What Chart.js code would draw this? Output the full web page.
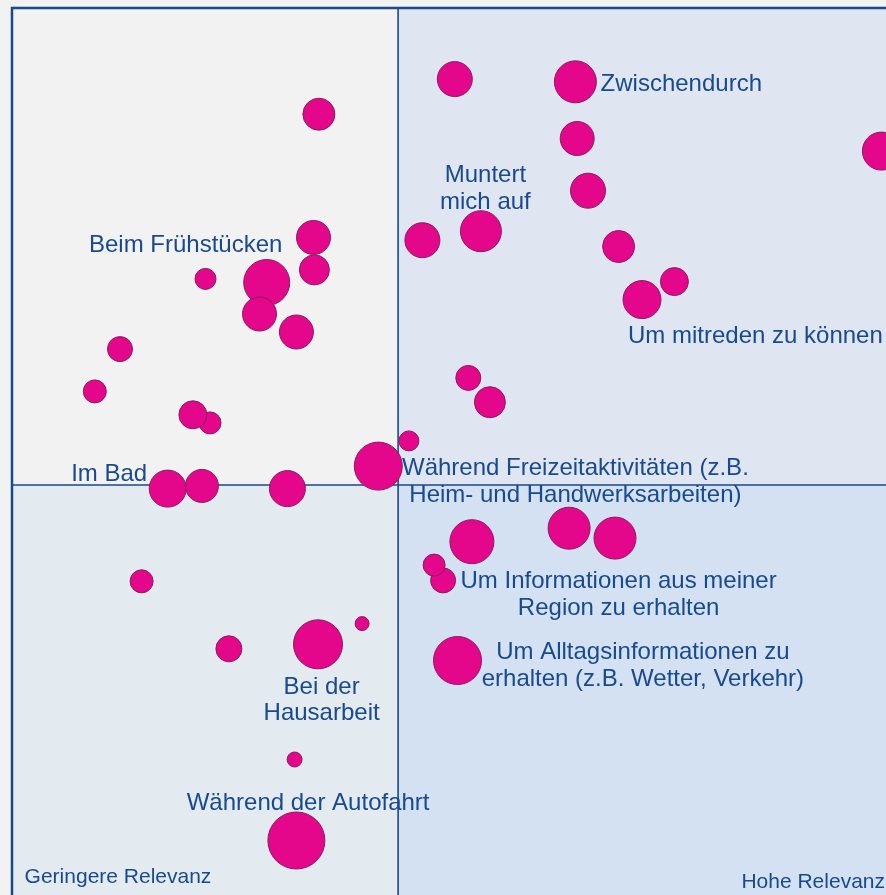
<!DOCTYPE html>
<html>
<head>
<meta charset="utf-8">
<script src="https://cdn.jsdelivr.net/npm/chart.js@4.4.1/dist/chart.umd.min.js"></script>
<style>
    html, body { margin: 0; padding: 0; background: #f2f2f2; }
    #wrap { width: 886px; height: 895px; overflow: hidden; position: relative; }
    canvas { display: block; }
</style>
</head>
<body>
<div id="wrap">
    <canvas id="relevanzChart" width="930" height="930"></canvas>
</div>
<script>
// Relevanz (x), Häufigkeit (y), Größe der Blase (r)
const xWerte = [
    34.1, 33.5, 33.6, 28.3, 21.5, 27.5, 31.6, 12.0, 9.2, 22.0, 20.1, 17.3, 21.1, 30.6, 40.7,
    14.4, 24.1, 34.0, 38.9, 31.4, 31.6,
    49.2, 62.6, 62.8, 64.0, 45.6, 52.1, 67.4, 73.6, 70.0, 96.6, 50.7, 53.1, 44.1,
    51.1, 61.9, 67.0, 47.9, 46.9, 49.5
];
const yWerte = [
    88.2, 74.5, 70.9, 69.5, 69.9, 66.0, 64.0, 62.1, 57.4, 53.9, 54.8, 46.6, 46.9, 46.6, 49.1,
    36.3, 28.8, 29.3, 31.6, 16.5, 7.5,
    92.1, 91.8, 85.5, 79.7, 74.2, 75.2, 73.5, 69.6, 67.6, 84.1, 58.9, 56.2, 51.9,
    40.7, 42.2, 41.1, 36.4, 38.1, 27.5
];
const rWerte = [
    16, 17, 15, 23, 10.5, 17, 17, 12.5, 11.5, 11, 14, 18.5, 16.5, 18, 24,
    11.5, 13, 24.5, 7, 7.5, 28.5,
    17.5, 21, 17, 17.5, 17.5, 20.5, 16, 14, 19, 19, 12.5, 15.5, 10,
    22, 21, 21, 12.5, 11, 24
];

// Trennlinien der Quadranten
const xTrenner = 42.9;
const yTrenner = 47.0;

// Beschriftungen: Text, Position in Achsenwerten, Ausrichtung
const beschriftungen = [
    { text: ['Zwischendurch'], x: 65.4, y: 91.7, align: 'left' },
    { text: ['Muntert', 'mich auf'], x: 52.6, y: 80.1, align: 'center' },
    { text: ['Beim Frühstücken'], x: 19.3, y: 73.9, align: 'center' },
    { text: ['Um mitreden zu können'], x: 82.6, y: 63.7, align: 'center' },
    { text: ['Im Bad'], x: 10.8, y: 48.4, align: 'center' },
    { text: ['Während Freizeitaktivitäten (z.B.', 'Heim- und Handwerksarbeiten)'], x: 62.6, y: 47.6, align: 'center' },
    { text: ['Um Informationen aus meiner', 'Region zu erhalten'], x: 67.4, y: 35.0, align: 'center' },
    { text: ['Um Alltagsinformationen zu', 'erhalten (z.B. Wetter, Verkehr)'], x: 70.1, y: 27.1, align: 'center' },
    { text: ['Bei der', 'Hausarbeit'], x: 34.4, y: 23.3, align: 'center' },
    { text: ['Während der Autofahrt'], x: 32.9, y: 11.9, align: 'center' }
];
const ecken = [
    { text: 'Geringere Relevanz', x: 1.4, y: 3.6, align: 'left' },
    { text: 'Hohe Relevanz', x: 97.0, y: 3.0, align: 'right' }
];

const blau = '#174a8e';

const quadrantenPlugin = {
    id: 'quadranten',
    beforeDatasetsDraw(chart) {
        const { ctx, chartArea: a, scales: { x, y } } = chart;
        const mx = x.getPixelForValue(xTrenner);
        const my = y.getPixelForValue(yTrenner);
        ctx.save();
        // Flächen
        ctx.fillStyle = '#f2f2f2';
        ctx.fillRect(a.left, a.top, mx - a.left, my - a.top);
        ctx.fillStyle = '#dfe6f2';
        ctx.fillRect(mx, a.top, a.right - mx, my - a.top);
        ctx.fillStyle = '#e4ebf0';
        ctx.fillRect(a.left, my, mx - a.left, a.bottom - my);
        ctx.fillStyle = '#d3e1f2';
        ctx.fillRect(mx, my, a.right - mx, a.bottom - my);

        // Texte (leicht nach unten, damit die Mitte optisch passt)
        ctx.fillStyle = blau;
        ctx.textBaseline = 'middle';
        ctx.font = '24px "Liberation Sans", Arial, sans-serif';
        const zeile = 26.7;
        beschriftungen.forEach(b => {
            ctx.textAlign = b.align;
            const px = x.getPixelForValue(b.x);
            const py = y.getPixelForValue(b.y) + 2 - (b.text.length - 1) * zeile / 2;
            b.text.forEach((t, i) => ctx.fillText(t, px, py + i * zeile));
        });
        ctx.font = '21px "Liberation Sans", Arial, sans-serif';
        ecken.forEach(e => {
            ctx.textAlign = e.align;
            ctx.fillText(e.text, x.getPixelForValue(e.x), y.getPixelForValue(e.y) + 1.5);
        });

        // Linien
        ctx.strokeStyle = blau;
        ctx.lineWidth = 1.6;
        ctx.beginPath();
        ctx.moveTo(mx, a.top);
        ctx.lineTo(mx, a.bottom);
        ctx.moveTo(a.left, my);
        ctx.lineTo(a.right, my);
        ctx.stroke();
        ctx.lineWidth = 2.5;
        ctx.strokeRect(a.left, a.top, a.right - a.left, a.bottom - a.top);
        ctx.restore();
    }
};

const punkte = xWerte.map((v, i) => ({ x: v, y: yWerte[i], r: rWerte[i] }));

const ctx = document.getElementById('relevanzChart').getContext('2d');
const relevanzChart = new Chart(ctx, {
    type: 'bubble',
    data: {
        datasets: [{
            data: punkte,
            backgroundColor: '#e4078c',
            borderColor: '#8c1a5c',
            borderWidth: 1
        }]
    },
    options: {
        responsive: false,
        animation: false,
        devicePixelRatio: 1,
        layout: { autoPadding: false, padding: { left: 12, top: 8, right: 18, bottom: 22 } },
        plugins: {
            legend: { display: false },
            tooltip: { enabled: false }
        },
        scales: {
            x: { type: 'linear', min: 0, max: 100, display: false },
            y: { type: 'linear', min: 0, max: 100, display: false }
        }
    },
    plugins: [quadrantenPlugin]
});
</script>
</body>
</html>
